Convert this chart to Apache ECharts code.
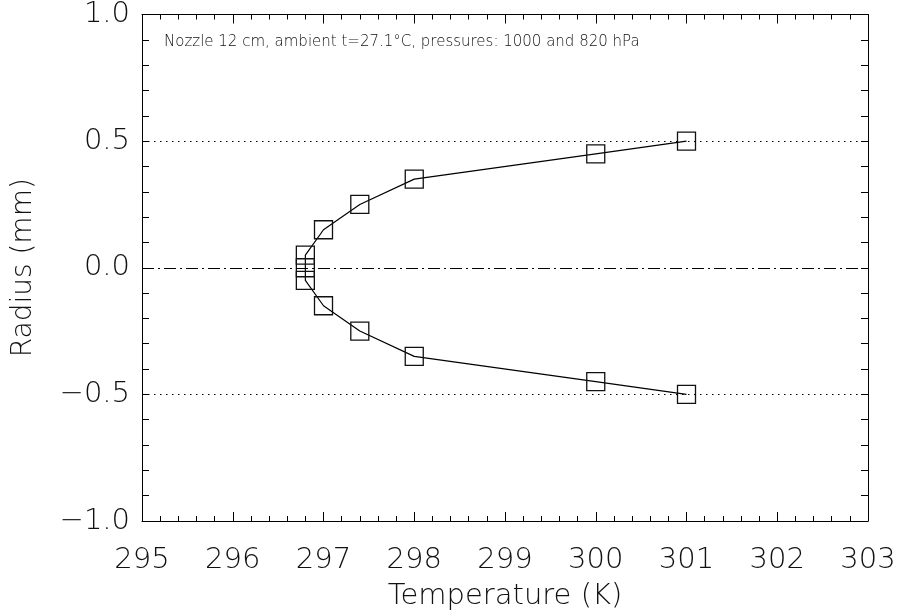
<!DOCTYPE html>
<html>
<head>
<meta charset="utf-8">
<script src="https://cdn.jsdelivr.net/npm/echarts@6/dist/echarts.min.js"></script>
<style>html,body{margin:0;padding:0;background:#fff;}#c{width:900px;height:616px;}</style>
</head>
<body>
<div id="c"></div>
<script>
// Data
const temps = [301.0, 300.0, 298.0, 297.4, 297.0, 296.8, 296.8, 296.8, 297.0, 297.4, 298.0, 300.0, 301.0];
const radii = [0.50, 0.45, 0.35, 0.25, 0.15, 0.05, 0.00, -0.05, -0.15, -0.25, -0.35, -0.45, -0.50];
const dottedLevels = [0.5, -0.5];
const centerLevel = [0.0];
const xTicks = [295, 296, 297, 298, 299, 300, 301, 302, 303];
const yTicks = [-1.0, -0.5, 0.0, 0.5, 1.0];
const note = 'Nozzle 12 cm, ambient t=27.1°C, pressures: 1000 and 820 hPa';

const FONT = 'DejaVu Sans';
const fmtY = v => v.toFixed(1).replace('-', '\u2212');

const chart = echarts.init(document.getElementById('c'), null, {renderer: 'canvas'});
const axisLine = {onZero: false, lineStyle: {color: '#000', width: 1}};
chart.setOption({
  animation: false,
  backgroundColor: '#fff',
  grid: {left: 142, right: 32, top: 12, bottom: 91, containLabel: false},
  xAxis: [{
    type: 'value', min: xTicks[0], max: xTicks[xTicks.length - 1], interval: 1,
    position: 'bottom',
    name: 'Temperature (K)', nameLocation: 'middle', nameGap: 61,
    nameTextStyle: {fontFamily: FONT, fontWeight: 200, fontSize: 29, color: '#111'},
    axisLine: axisLine,
    axisTick: {inside: true, length: 9, lineStyle: {color: '#000'}},
    minorTick: {show: true, splitNumber: 5, length: 5, lineStyle: {color: '#000'}},
    axisLabel: {margin: 25, fontFamily: FONT, fontWeight: 200, fontSize: 29, color: '#111'},
    splitLine: {show: false}
  }, {
    type: 'value', min: xTicks[0], max: xTicks[xTicks.length - 1], interval: 1,
    position: 'top',
    axisLine: axisLine,
    axisTick: {inside: true, length: 9, lineStyle: {color: '#000'}},
    minorTick: {show: true, splitNumber: 5, length: 5, lineStyle: {color: '#000'}},
    axisLabel: {show: false},
    splitLine: {show: false}
  }],
  yAxis: [{
    type: 'value', min: yTicks[0], max: yTicks[yTicks.length - 1], interval: 0.5,
    position: 'left',
    name: 'Radius (mm)', nameLocation: 'middle', nameGap: 104,
    nameTextStyle: {fontFamily: FONT, fontWeight: 200, fontSize: 28, color: '#111'},
    axisLine: axisLine,
    axisTick: {inside: true, length: 7, lineStyle: {color: '#000'}},
    minorTick: {show: true, splitNumber: 5, length: 7, lineStyle: {color: '#000'}},
    axisLabel: {margin: 12, fontFamily: FONT, fontWeight: 200, fontSize: 29, color: '#111', formatter: fmtY},
    splitLine: {show: false}
  }, {
    type: 'value', min: yTicks[0], max: yTicks[yTicks.length - 1], interval: 0.5,
    position: 'right',
    axisLine: axisLine,
    axisTick: {inside: true, length: 7, lineStyle: {color: '#000'}},
    minorTick: {show: true, splitNumber: 5, length: 7, lineStyle: {color: '#000'}},
    axisLabel: {show: false},
    splitLine: {show: false}
  }],
  graphic: [{
    type: 'text', left: 164, top: 35,
    style: {text: note, fontFamily: FONT, fontWeight: 200, fontSize: 15, fill: '#111'}
  }],
  series: [{
    type: 'line',
    data: temps.map((t, i) => [t, radii[i]]),
    symbol: 'rect', symbolSize: 18,
    lineStyle: {color: '#000', width: 1.2},
    itemStyle: {color: 'rgba(255,255,255,0)', borderColor: '#111', borderWidth: 1.3},
    z: 3,
    markLine: {
      silent: true, symbol: 'none', label: {show: false},
      data: dottedLevels.map(v => ({yAxis: v, lineStyle: {type: [1.5, 4.5], color: '#000', width: 1.2}}))
        .concat(centerLevel.map(v => ({yAxis: v, lineStyle: {type: [12, 4, 2, 4], color: '#000', width: 1.2}})))
    }
  }]
});
</script>
</body>
</html>
